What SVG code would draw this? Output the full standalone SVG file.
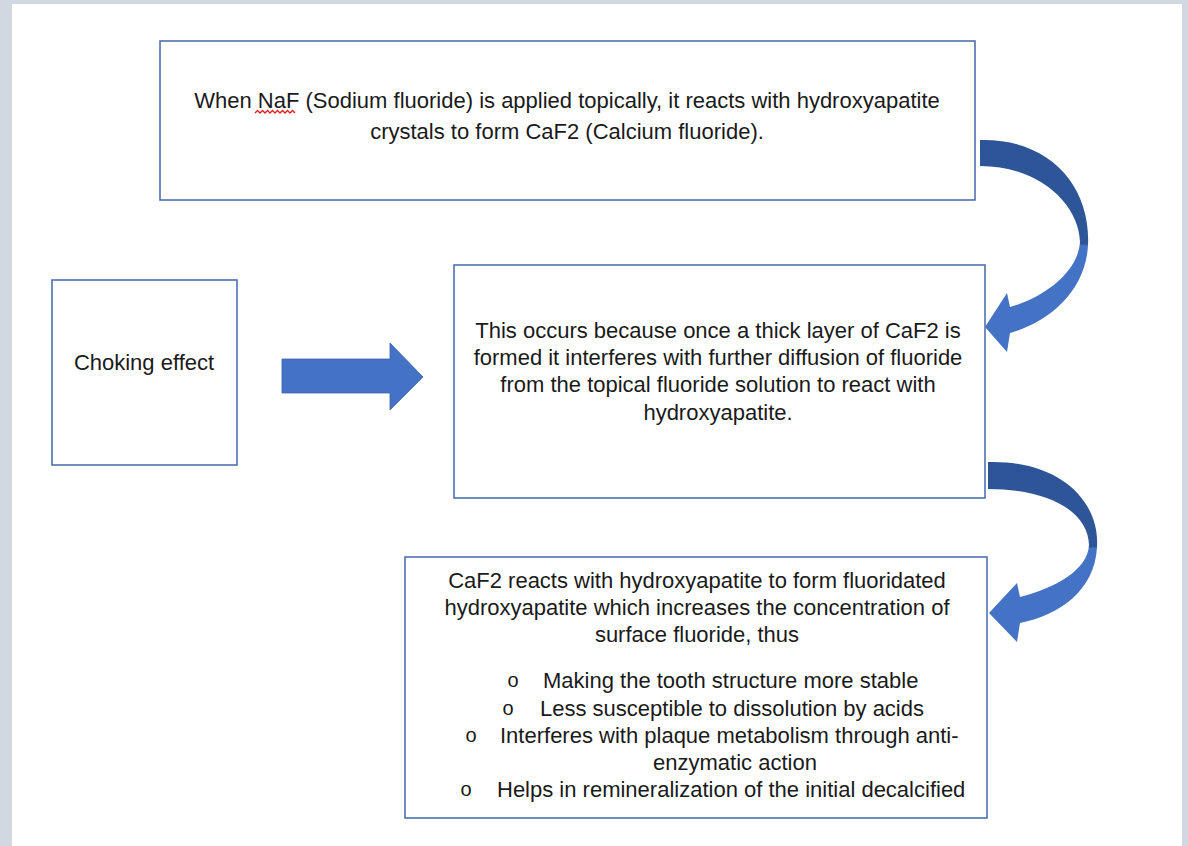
<svg xmlns="http://www.w3.org/2000/svg" width="1188" height="846" viewBox="0 0 1188 846">
<defs>
<style>
.box{fill:#ffffff;stroke:#4468a8;stroke-width:1.5}
.t{font-family:"Liberation Sans",Arial,sans-serif;font-size:22px;fill:#1a1a1a}
.b{font-family:"Liberation Sans",Arial,sans-serif;font-size:20px;fill:#1a1a1a;text-anchor:middle}
.c{text-anchor:middle}
.arrow{fill:#4472c4;stroke:#3a62ad;stroke-width:0.8}
</style>
<linearGradient id="g1" gradientUnits="userSpaceOnUse" x1="0" y1="140" x2="0" y2="352">
<stop offset="0" stop-color="#2c5597"/>
<stop offset="0.49" stop-color="#2f5697"/>
<stop offset="0.5" stop-color="#4472c4"/>
<stop offset="1" stop-color="#4472c4"/>
</linearGradient>
<linearGradient id="g2" gradientUnits="userSpaceOnUse" x1="0" y1="462" x2="0" y2="642">
<stop offset="0" stop-color="#2c5597"/>
<stop offset="0.47" stop-color="#2f5697"/>
<stop offset="0.48" stop-color="#4472c4"/>
<stop offset="1" stop-color="#4472c4"/>
</linearGradient>
</defs>
<rect x="0" y="0" width="1188" height="846" fill="#d0d9e1"/>
<rect x="12" y="4" width="1170" height="842" fill="#ffffff"/>

<g id="node-naf">
<rect class="box" x="160" y="41" width="815" height="159"/>
<text class="t c" x="567" y="108">When NaF (Sodium fluoride) is applied topically, it reacts with hydroxyapatite</text>
<text class="t c" x="567" y="139">crystals to form CaF2 (Calcium fluoride).</text>
<path d="M255 113 l2.5 -2.5 l2.5 2.5 l2.5 -2.5 l2.5 2.5 l2.5 -2.5 l2.5 2.5 l2.5 -2.5 l2.5 2.5 l2.5 -2.5 l2.5 2.5 l2.5 -2.5 l2.5 2.5 l2.5 -2.5 l2.5 2.5 l2.5 -2.5 l2.5 2.5" fill="none" stroke="#e02020" stroke-width="1.3"/>
</g>

<g id="node-choking">
<rect class="box" x="52" y="280" width="185" height="185"/>
<text class="t c" x="144" y="370">Choking effect</text>
</g>

<g id="node-occurs">
<rect class="box" x="454" y="265" width="531" height="233"/>
<text class="t c" x="718" y="338">This occurs because once a thick layer of CaF2 is</text>
<text class="t c" x="718" y="365">formed it interferes with further diffusion of fluoride</text>
<text class="t c" x="718" y="392">from the topical fluoride solution to react with</text>
<text class="t c" x="718" y="420">hydroxyapatite.</text>
</g>

<g id="node-caf2">
<rect class="box" x="405" y="557" width="582" height="261"/>
<text class="t c" x="697" y="588">CaF2 reacts with hydroxyapatite to form fluoridated</text>
<text class="t c" x="697" y="615">hydroxyapatite which increases the concentration of</text>
<text class="t c" x="697" y="642">surface fluoride, thus</text>
<text class="b" x="513" y="687">o</text>
<text class="t" x="543" y="688">Making the tooth structure more stable</text>
<text class="b" x="508" y="715">o</text>
<text class="t" x="540" y="716">Less susceptible to dissolution by acids</text>
<text class="b" x="471" y="742">o</text>
<text class="t" x="500" y="743">Interferes with plaque metabolism through anti-</text>
<text class="t c" x="735" y="770">enzymatic action</text>
<text class="b" x="466" y="796">o</text>
<text class="t" x="497" y="797">Helps in remineralization of the initial decalcified</text>
</g>

<g id="connectors">
<path class="arrow" d="M282 359 L390 359 L390 343 L423 377 L390 410 L390 393 L282 393 Z"/>
<path fill="url(#g1)" d="M980 140 C1048 138 1091 185 1088 245 C1086 290 1050 322 1010 333 L1007 352 L985 327 L1007 293 L1010 307 C1045 297 1078 272 1080 242 C1079 205 1040 166 980 166 Z"/>
<path fill="url(#g2)" d="M988 462 C1058 460 1100 500 1097 547 C1095 590 1060 615 1020 623 L1017 642 L989 613 L1017 583 L1020 597 C1055 588 1088 570 1089 545 C1088 512 1050 489 988 489 Z"/>
</g>
</svg>
